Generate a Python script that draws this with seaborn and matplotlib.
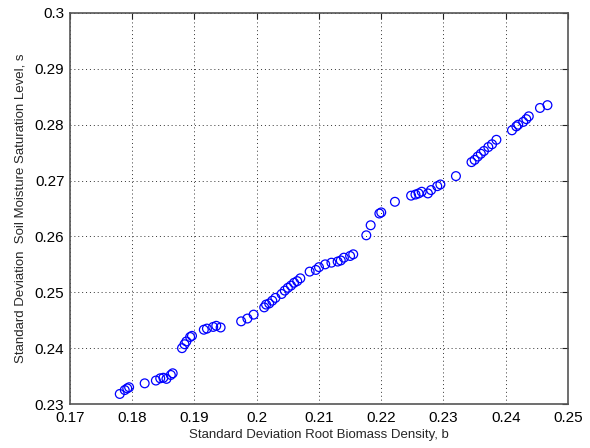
import matplotlib
matplotlib.use("Agg")
import matplotlib.pyplot as plt
import seaborn as sns
import pandas as pd

sns.set_style("white")
plt.rcParams['font.family'] = ['Liberation Sans', 'DejaVu Sans']

root_sd = [0.1780, 0.1788, 0.1792, 0.1795, 0.1820, 0.1838, 0.1845, 0.1850, 0.1855,
           0.1862, 0.1865, 0.1880, 0.1884, 0.1887, 0.1893, 0.1896, 0.1915, 0.1920,
           0.1930, 0.1935, 0.1942, 0.1975, 0.1985, 0.1995, 0.2012, 0.2015, 0.2020,
           0.2025, 0.2030, 0.2040, 0.2045, 0.2050, 0.2055, 0.2060, 0.2065, 0.2070,
           0.2085, 0.2095, 0.2100, 0.2110, 0.2120, 0.2130, 0.2135, 0.2140, 0.2150,
           0.2155, 0.2176, 0.2183, 0.2197, 0.2200, 0.2222, 0.2248, 0.2255, 0.2260,
           0.2265, 0.2275, 0.2280, 0.2290, 0.2295, 0.2320, 0.2345, 0.2350, 0.2355,
           0.2360, 0.2365, 0.2372, 0.2378, 0.2385, 0.2410, 0.2417, 0.2420, 0.2428,
           0.2433, 0.2437, 0.2455, 0.2467]
soil_sd = [0.2318, 0.2325, 0.2328, 0.2330, 0.2337, 0.2342, 0.2346, 0.2347, 0.2345,
           0.2352, 0.2355, 0.2400, 0.2407, 0.2412, 0.2420, 0.2422, 0.2433, 0.2435,
           0.2438, 0.2440, 0.2437, 0.2448, 0.2453, 0.2460, 0.2473, 0.2478, 0.2480,
           0.2485, 0.2490, 0.2497, 0.2503, 0.2508, 0.2512, 0.2517, 0.2520, 0.2525,
           0.2537, 0.2540, 0.2545, 0.2550, 0.2553, 0.2555, 0.2557, 0.2562, 0.2565,
           0.2568, 0.2602, 0.2620, 0.2641, 0.2643, 0.2662, 0.2673, 0.2675, 0.2677,
           0.2680, 0.2677, 0.2683, 0.2690, 0.2693, 0.2708, 0.2733, 0.2737, 0.2743,
           0.2748, 0.2753, 0.2760, 0.2765, 0.2773, 0.2790, 0.2797, 0.2800, 0.2805,
           0.2810, 0.2815, 0.2830, 0.2835]

x_ticks = [0.17, 0.18, 0.19, 0.2, 0.21, 0.22, 0.23, 0.24, 0.25]
x_tick_labels = ["0.17", "0.18", "0.19", "0.2", "0.21", "0.22", "0.23", "0.24", "0.25"]
y_ticks = [0.23, 0.24, 0.25, 0.26, 0.27, 0.28, 0.29, 0.3]
y_tick_labels = ["0.23", "0.24", "0.25", "0.26", "0.27", "0.28", "0.29", "0.3"]

df = pd.DataFrame({"b": root_sd, "s": soil_sd})

fig = plt.figure(figsize=(5.9, 4.48), dpi=100)
ax = fig.add_axes([0.1186, 0.0982, 0.8441, 0.8728])
sns.scatterplot(data=df, x="b", y="s", ax=ax, marker="o", s=40,
                facecolors="none", edgecolor="#0000ff", linewidth=0.9)

ax.set_xlim(0.17, 0.25)
ax.set_ylim(0.23, 0.3)
ax.set_xticks(x_ticks)
ax.set_xticklabels(x_tick_labels)
ax.set_yticks(y_ticks)
ax.set_yticklabels(y_tick_labels)
ax.grid(True, linestyle=(0, (1, 3)), color="#333333", linewidth=0.7)
ax.tick_params(direction="in", top=True, right=True, length=4, labelsize=11,
               colors="#222222", labelcolor="black")
ax.tick_params(axis="x", pad=5)
ax.tick_params(axis="y", pad=4)
for sp in ax.spines.values():
    sp.set_color("#555555")
    sp.set_linewidth(1.2)
ax.set_xlabel("Standard Deviation Root Biomass Density, b", fontsize=9.5, labelpad=3)
ax.set_ylabel("Standard Deviation  Soil Moisture Saturation Level, s", fontsize=9.5, labelpad=6)

fig.savefig("out.png", dpi=100)
